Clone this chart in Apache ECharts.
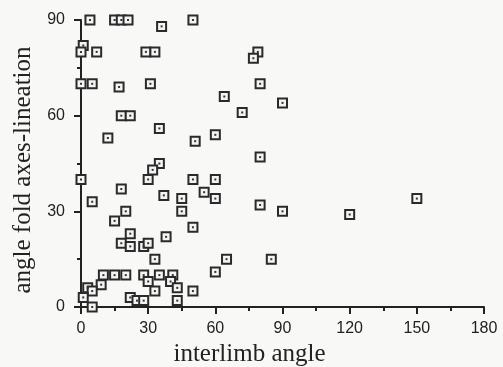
<!DOCTYPE html>
<html><head><meta charset="utf-8">
<script src="https://cdn.jsdelivr.net/npm/echarts@6/dist/echarts.min.js"></script>
<style>html,body{margin:0;padding:0;background:#f8f8f6}#c{width:503px;height:367px}</style>
</head><body><div id="c"></div>
<script>
const xTicks = [0, 30, 60, 90, 120, 150, 180];
const yTicks = [0, 30, 60, 90];
const interlimb = [4,15,18,21,36,50,1,0,7,29,33,0,5,17,31,18,22,35,12,51,60,79,77,80,64,90,72,80,
  35,32,30,0,50,60,18,55,60,37,5,45,45,20,15,50,22,18,22,28,30,38,33,60,65,85,80,90,120,150,
  10,15,20,28,35,41,30,40,33,43,50,9,3,5,1,5,22,25,28,43];
const foldLineation = [90,90,90,90,88,90,82,80,80,80,80,70,70,69,70,60,60,56,53,52,54,80,78,70,66,64,61,47,
  45,43,40,40,40,40,37,36,34,35,33,34,30,30,27,25,23,20,19,19,20,22,15,11,15,15,32,30,29,34,
  10,10,10,10,10,10,8,8,5,6,5,7,6,5,3,0,3,2,2,2];
const pts = interlimb.map((x, i) => [x, foldLineation[i]]);
const chart = echarts.init(document.getElementById('c'));
const axisCommon = {
  axisLine: {show: true, lineStyle: {color: '#222', width: 2}},
  axisTick: {show: true, length: 7, lineStyle: {color: '#222', width: 2}},
  minorTick: {show: true, splitNumber: 2, length: 4, lineStyle: {color: '#222', width: 2}},
  splitLine: {show: false}
};
chart.setOption({
  backgroundColor: '#f8f8f6',
  animation: false,
  grid: {left: 81, right: 19, top: 20, bottom: 60, containLabel: false, outerBoundsMode: 'none'},
  xAxis: Object.assign({
    type: 'value', min: xTicks[0], max: xTicks[xTicks.length - 1], interval: 30,
    name: 'interlimb angle', nameLocation: 'middle', nameGap: 30,
    nameTextStyle: {fontFamily: 'Liberation Serif', fontSize: 25, color: '#222', padding: [0, 66, 0, 0]},
    axisLabel: {fontFamily: 'Liberation Sans', fontSize: 16, color: '#222', margin: 14}
  }, axisCommon),
  yAxis: Object.assign({
    type: 'value', min: yTicks[0], max: yTicks[yTicks.length - 1], interval: 30,
    name: 'angle fold axes-lineation', nameLocation: 'middle', nameGap: 43, nameRotate: 90,
    nameTextStyle: {fontFamily: 'Liberation Serif', fontSize: 25, color: '#222', padding: [0, 13, 0, 0]},
    axisLabel: {fontFamily: 'Liberation Sans', fontSize: 16, color: '#222', margin: 16}
  }, axisCommon),
  series: [
    {type: 'scatter', data: pts, symbol: 'rect', symbolSize: 9,
     itemStyle: {color: '#f4f4f4', borderColor: '#2a2a2a', borderWidth: 2, opacity: 1}},
    {type: 'scatter', data: pts, symbol: 'rect', symbolSize: 2,
     itemStyle: {color: '#333', opacity: 1}}
  ]
});
</script></body></html>
